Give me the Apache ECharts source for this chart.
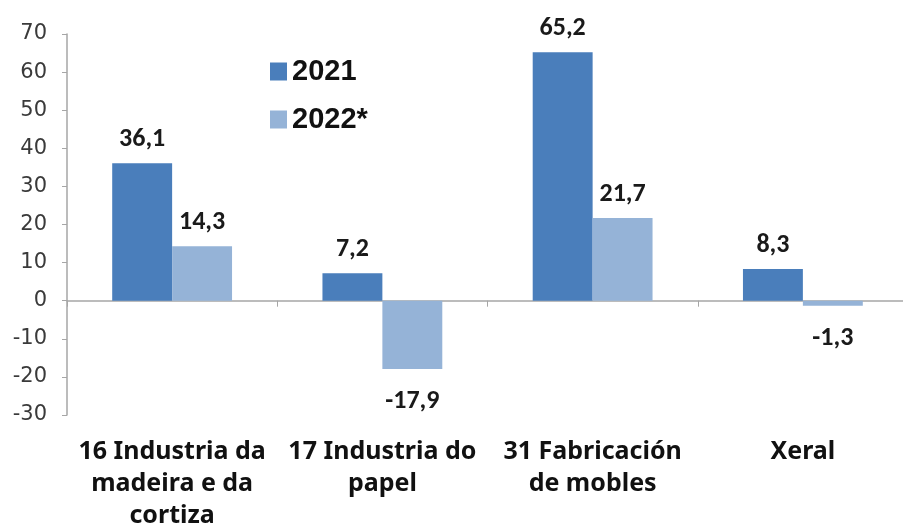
<!DOCTYPE html>
<html>
<head>
<meta charset="utf-8">
<script src="https://cdn.jsdelivr.net/npm/echarts@6/dist/echarts.min.js"></script>
<style>
  html, body { margin: 0; padding: 0; background: #fff; }
  #chart { width: 903px; height: 527px; }
</style>
</head>
<body>
<div id="chart"></div>
<script>
// categories and values
var categories = ['16 Industria da\nmadeira e da\ncortiza', '17 Industria do\npapel', '31 Fabricación\nde mobles', 'Xeral'];
var values2021 = [36.1, 7.2, 65.2, 8.3];
var values2022 = [14.3, -17.9, 21.7, -1.3];
var seriesNames = ['2021', '2022*'];
var yTicks = [-30, 70, 10]; // min, max, step

var chart = echarts.init(document.getElementById('chart'));

function toItems(arr) {
  return arr.map(function (v) {
    return { value: v, label: { position: v < 0 ? 'bottom' : 'top', distance: v < 0 ? 20 : 11 } };
  });
}

var labelStyle = {
  show: true,
  fontSize: 26,
  fontWeight: 'bold',
  fontFamily: 'Carlito, "Liberation Sans", sans-serif',
  color: '#1a1a1a',
  formatter: function (p) { return p.value.toFixed(1).replace('.', ','); }
};

var option = {
  animation: false,
  grid: { left: 67, top: 34, bottom: 112, right: -5, outerBoundsMode: 'none', containLabel: false },
  legend: {
    orient: 'vertical',
    left: 265,
    top: 52,
    itemGap: 19,
    icon: 'rect',
    itemWidth: 17,
    itemHeight: 18,
    itemStyle: { borderWidth: 0 },
    textStyle: { fontSize: 29, fontWeight: 'bold', fontFamily: '"Liberation Sans", Arial, sans-serif', color: '#111' },
    data: seriesNames
  },
  xAxis: [{
    type: 'category',
    data: categories,
    axisLine: { onZero: true, lineStyle: { color: '#a6a6a6', width: 1.5 } },
    axisTick: { show: true, length: 6, lineStyle: { color: '#a6a6a6' } },
    axisLabel: { show: false }
  }, {
    type: 'category',
    data: categories,
    position: 'bottom',
    axisLine: { show: false, onZero: false },
    axisTick: { show: false },
    axisLabel: {
      margin: 21,
      fontSize: 25,
      lineHeight: 32,
      fontWeight: 'bold',
      fontFamily: '"Noto Sans", sans-serif',
      color: '#111',
      interval: 0
    }
  }],
  yAxis: {
    type: 'value',
    min: yTicks[0],
    max: yTicks[1],
    interval: yTicks[2],
    axisLine: { show: true, lineStyle: { color: '#a6a6a6', width: 1.5 } },
    axisTick: { show: true, length: 5, lineStyle: { color: '#a6a6a6' } },
    splitLine: { show: false },
    axisLabel: { fontSize: 21, color: '#3a3a3a', margin: 20, fontFamily: '"DejaVu Sans", sans-serif' }
  },
  series: [{
    name: seriesNames[0],
    type: 'bar',
    data: toItems(values2021),
    barGap: '0%',
    barCategoryGap: '43%',
    itemStyle: { color: '#4a7ebb' },
    label: labelStyle
  }, {
    name: seriesNames[1],
    type: 'bar',
    data: toItems(values2022),
    itemStyle: { color: '#95b3d7' },
    label: labelStyle
  }]
};

chart.setOption(option);
</script>
</body>
</html>
